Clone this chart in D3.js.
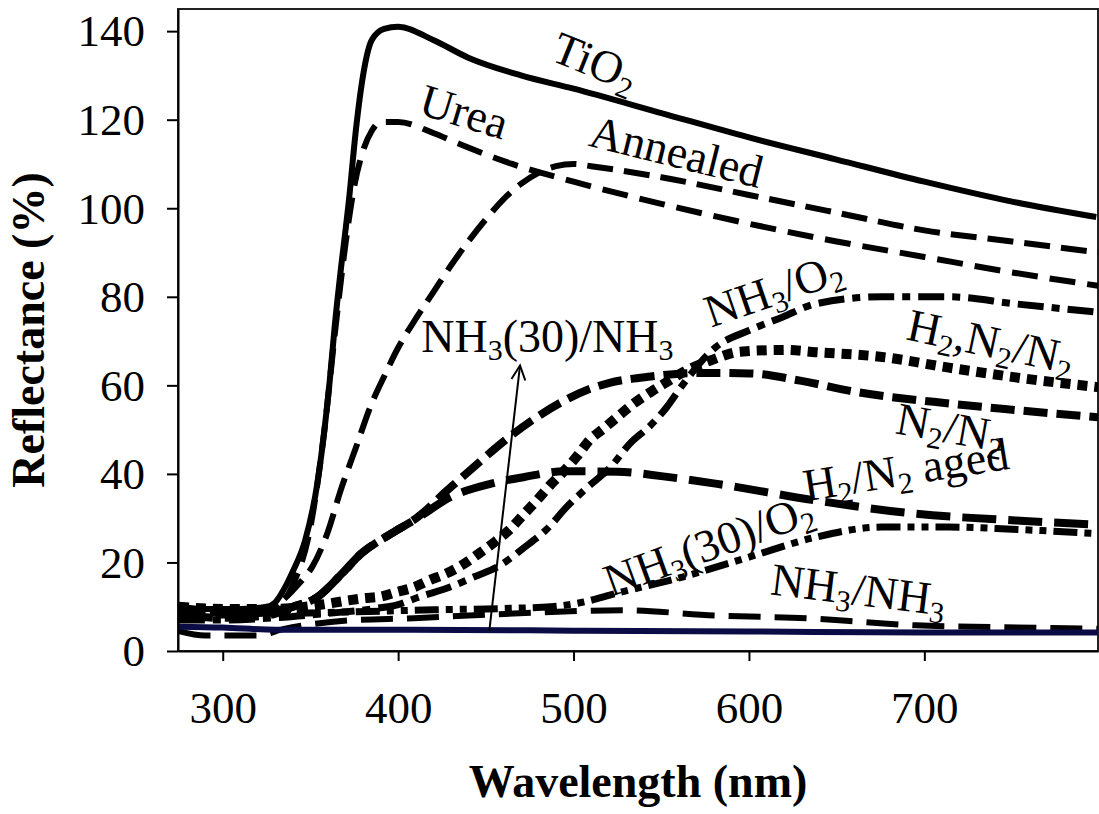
<!DOCTYPE html>
<html>
<head>
<meta charset="utf-8">
<script src="https://cdn.jsdelivr.net/npm/d3@7"></script>
<style>
  body { margin: 0; background: #fff; }
  svg { font-family: "Liberation Serif", "Times New Roman", serif; }
</style>
</head>
<body>
<div id="chart"></div>
<script>
// reflectance spectra, [wavelength nm, reflectance %]
const tio2 = [[275,10],[290,9.5],[310,9.5],[325,10],[330,11],[335,14],[340,18],[347,25],[354,38],[358,50],[361,61],[364,74],[367,85],[372,102],[376,118],[380,130],[385,138],[392,140.5],[400,141],[420,138],[440,134],[470,130],[500,127],[550,121.5],[600,116],[650,111],[700,106],[750,101.5],[798,98]];
const urea = [[275,9],[300,8.5],[325,9],[332,10],[340,15],[350,28],[358,50],[364,72],[370,92],[375,105],[380,113],[385,117.5],[390,119.5],[400,119.5],[420,117],[435,114.5],[465,110],[500,106],[550,101],[600,96.5],[650,92.5],[700,89],[750,85.5],[799,82.5]];
const annealed = [[275,8],[300,8],[325,8.5],[333,11],[343,15],[351,19],[360,27],[367,36],[376,46],[384,55],[392,62],[400,68.5],[410,75],[420,81],[430,87],[440,92.5],[450,97.5],[460,102],[470,105.5],[480,108],[490,109.5],[500,110],[510,109.5],[550,107],[600,103],[650,99],[700,95],[750,92.5],[799,90]];
const n2n2 = [[275,9.5],[300,9],[325,9],[340,10],[354,12.2],[368,17.5],[379,22],[396,26.5],[411,30.2],[428,36.3],[443,41.5],[461,47.6],[476,52],[495,56.6],[508,59],[520,60.5],[544,62],[570,62.8],[600,62.7],[630,61],[657,58.8],[714,55.9],[750,54.5],[799,52.8]];
const h2n2Aged = [[275,8],[300,7.5],[325,8],[340,10],[354,12.2],[368,17.5],[379,22],[396,26.5],[411,30],[430,34.8],[453,37.8],[472,39.3],[495,40.6],[525,40.5],[550,39.5],[581,37.8],[638,34],[695,31],[752,29.5],[799,28.5]];
const h2n2n2 = [[275,10],[300,9.5],[330,9.5],[360,10.7],[371,11.4],[380,11.9],[390,12.3],[399,13.3],[409,14.4],[418,16],[428,17.6],[436,19.3],[446,22],[455,24.6],[464,27.6],[471,30.6],[479,34],[487,37.6],[494,40.4],[502,44],[509,47.6],[517,50.2],[526,53.2],[534,55.8],[544,58.5],[553,60.7],[565,63.5],[578,65.6],[595,67.6],[620,68],[638,67.5],[676,66.4],[714,64],[752,61.8],[799,59.6]];
const nh3o2 = [[275,7],[300,7],[330,7.5],[360,8.5],[385,9.5],[400,10.5],[412,12.2],[430,14.5],[443,16.7],[458,19.3],[471,23.1],[485,27.6],[496,32.5],[508,37],[521,41.5],[532,46.8],[544,51],[553,55],[562,60],[581,68.6],[600,72.4],[619,75.4],[638,78.4],[676,80],[714,80],[752,78.4],[799,76.5]];
const nh330o2 = [[275,9],[300,8.5],[330,8.5],[370,8.8],[420,9.3],[460,9.6],[487,10],[505,11],[524,13],[562,16.7],[600,21.2],[638,25.7],[676,28],[714,28],[750,27.5],[799,26.5]];
const nh3nh3 = [[275,4.5],[290,3.5],[320,3.5],[335,5],[350,6],[372,6.9],[409,7.4],[440,8],[480,8.7],[528,9.2],[581,8],[638,7.3],[667,6.5],[695,5.8],[743,5.4],[799,5]];
const nh330nh3 = [[275,5.5],[300,5.3],[330,4.8],[400,4.8],[500,4.6],[600,4.4],[700,4.2],[799,4.2]];

const xTicks = [300, 400, 500, 600, 700];
const yTicks = [0, 20, 40, 60, 80, 100, 120, 140];

// curve labels: text parts ([text, subscript?]), anchor in data units, rotation
const labelText = [
  [["Ti",0],["O",0],["2",1]],
  [["Urea",0]],
  [["Annealed",0]],
  [["NH",0],["3",1],["(30)/NH",0],["3",1]],
  [["NH",0],["3",1],["/O",0],["2",1]],
  [["H",0],["2",1],[",N",0],["2",1],["/N",0],["2",1]],
  [["N",0],["2",1],["/N",0],["2",1]],
  [["H",0],["2",1],["/N",0],["2",1],[" aged",0]],
  [["NH",0],["3",1],["(30)/O",0],["2",1]],
  [["NH",0],["3",1],["/NH",0],["3",1]]
];
const labelAt = [[512.5,133],[437.7,121.7],[558.7,112.7],[485.1,70.9],[614,81.5],[737.9,69.8],[715,50.4],[689.4,40.9],[576.9,23.9],[662.5,13.8]];
const labelAngle = [22, 17, 14, 0, -19, 12, 10, -9, -20, 7];

// arrow from the NH3(30)/NH3 trace up to its label
const arrowFrom = [452, 4.6];
const arrowTo = [469.5, 64.5];

function drawChart() {
  const width = 1099, height = 814;
  const left = 178, right = 1098, top = 9, bottom = 651;

  const x = d3.scaleLinear().domain([274.5, 799]).range([left, right]);
  const y = d3.scaleLinear().domain([0, 145]).range([bottom, top]);

  const svg = d3.select('#chart')
    .append('svg')
    .attr('width', width)
    .attr('height', height);

  // frame
  svg.append('rect')
    .attr('x', left).attr('y', top)
    .attr('width', right - left).attr('height', bottom - top)
    .attr('fill', 'none')
    .attr('stroke', '#222')
    .attr('stroke-width', 2);

  const line = d3.line()
    .x(d => x(d[0]))
    .y(d => y(d[1]))
    .curve(d3.curveMonotoneX);

  const series = [
    { data: tio2, dash: null, w: 6 },
    { data: urea, dash: '26 12', w: 6 },
    { data: annealed, dash: '26 11', w: 6 },
    { data: n2n2, dash: '24 9', w: 8 },
    { data: h2n2Aged, dash: '34 12', w: 8 },
    { data: h2n2n2, dash: '10 7', w: 10 },
    { data: nh3o2, dash: '26 8 8 8', w: 7 },
    { data: nh330o2, dash: '24 7 7 7 7 7', w: 7 },
    { data: nh3nh3, dash: '32 14', w: 6 },
    { data: nh330nh3, dash: null, w: 6, color: '#0b0b45' }
  ];

  const plot = svg.append('g');
  series.forEach(s => {
    plot.append('path')
      .attr('d', line(s.data))
      .attr('fill', 'none')
      .attr('stroke', s.color || '#000')
      .attr('stroke-width', s.w)
      .attr('stroke-dasharray', s.dash)
      .attr('stroke-linejoin', 'round');
  });

  // axes
  const xAxis = svg.append('g')
    .attr('transform', `translate(0,${bottom})`)
    .call(d3.axisBottom(x).tickValues(xTicks).tickSize(10).tickSizeOuter(0));
  xAxis.selectAll('text')
    .attr('y', 72).attr('dy', 0);

  const yAxis = svg.append('g')
    .attr('transform', `translate(${left},0)`)
    .call(d3.axisLeft(y).tickValues(yTicks).tickSize(11).tickSizeOuter(0));
  yAxis.selectAll('text')
    .attr('x', -33).attr('dy', '0.33em');

  [xAxis, yAxis].forEach(a => a.attr('font-family', null).attr('font-size', 45));
  svg.selectAll('.tick text').attr('fill', '#000');
  svg.selectAll('.domain').attr('stroke', '#000').attr('stroke-width', 2);
  svg.selectAll('.tick line').attr('stroke', '#000').attr('stroke-width', 2);

  // axis titles
  svg.append('text')
    .attr('x', 638).attr('y', 797)
    .attr('text-anchor', 'middle')
    .attr('font-size', 46).attr('font-weight', 'bold')
    .text('Wavelength (nm)');

  svg.append('text')
    .attr('transform', `translate(44,${(top + bottom) / 2}) rotate(-90)`)
    .attr('text-anchor', 'middle')
    .attr('font-size', 46).attr('font-weight', 'bold')
    .text('Reflectance (%)');

  // curve labels
  labelText.forEach((parts, i) => {
    const t = svg.append('text')
      .attr('transform', `translate(${x(labelAt[i][0])},${y(labelAt[i][1])}) rotate(${labelAngle[i]})`)
      .attr('text-anchor', 'middle')
      .attr('font-size', 46)
      .attr('dy', '0.33em');
    let shifted = false;
    parts.forEach(p => {
      const sp = t.append('tspan').text(p[0]);
      if (p[1]) {
        sp.attr('font-size', 30).attr('dy', shifted ? 0 : 8);
        shifted = true;
      } else {
        if (shifted) sp.attr('dy', -8);
        shifted = false;
      }
    });
  });

  // arrow
  const ax0 = x(arrowFrom[0]), ay0 = y(arrowFrom[1]);
  const ax1 = x(arrowTo[0]), ay1 = y(arrowTo[1]);
  svg.append('line')
    .attr('x1', ax0).attr('y1', ay0).attr('x2', ax1).attr('y2', ay1)
    .attr('stroke', '#000').attr('stroke-width', 2);
  const ang = Math.atan2(ay1 - ay0, ax1 - ax0);
  const head = 16, spread = 0.45;
  svg.append('path')
    .attr('d', `M${ax1 - head * Math.cos(ang - spread)},${ay1 - head * Math.sin(ang - spread)}` +
      `L${ax1},${ay1}L${ax1 - head * Math.cos(ang + spread)},${ay1 - head * Math.sin(ang + spread)}`)
    .attr('fill', 'none').attr('stroke', '#000').attr('stroke-width', 2);
}

drawChart();
</script>
</body>
</html>
